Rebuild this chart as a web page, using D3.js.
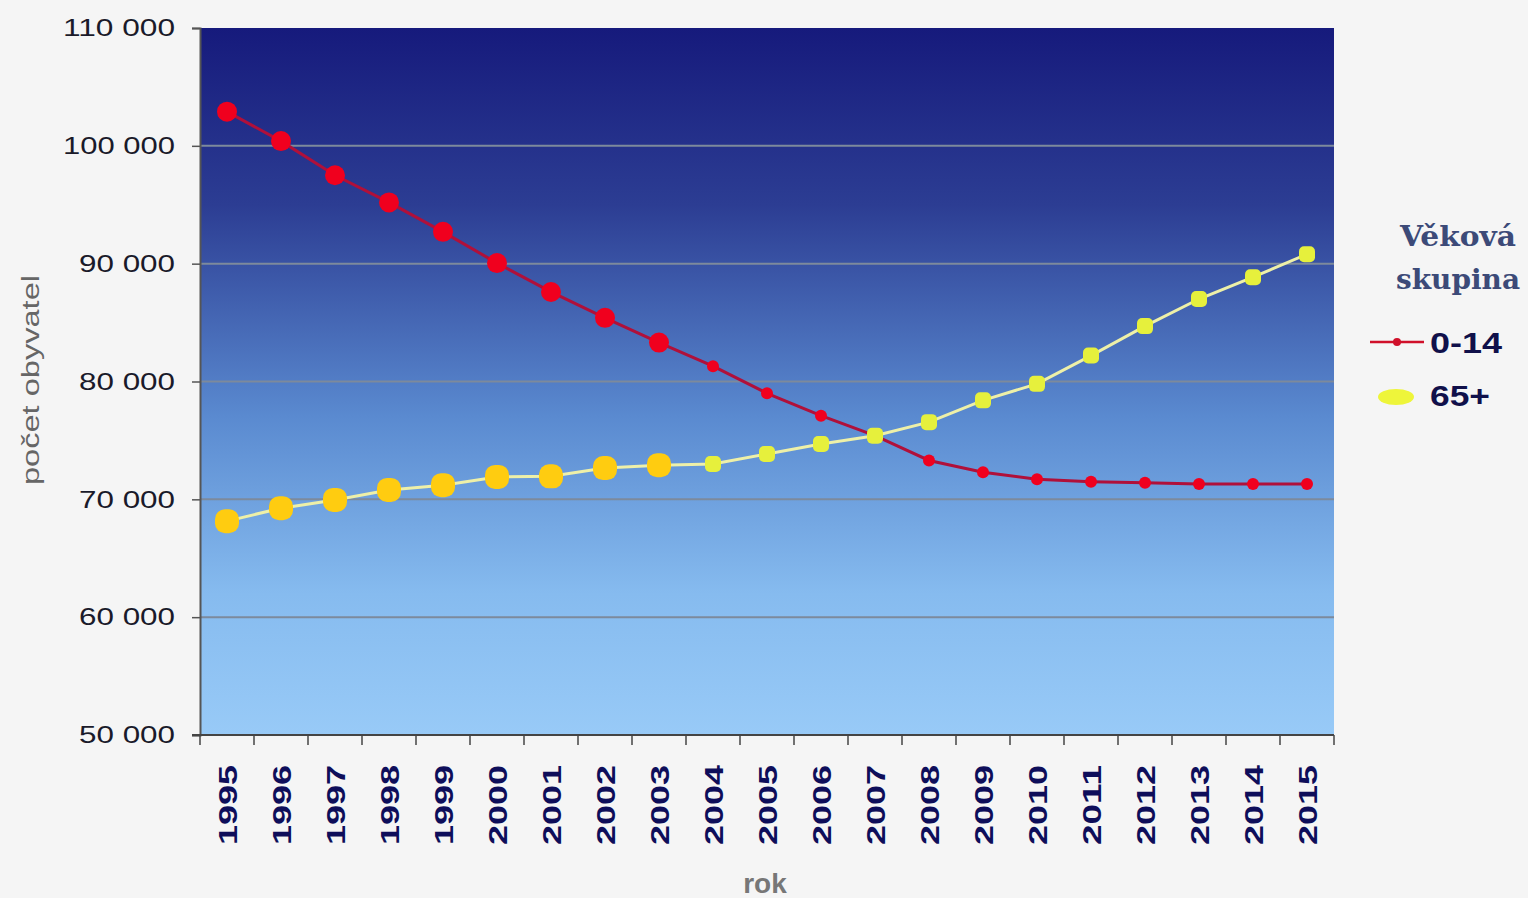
<!DOCTYPE html>
<html>
<head>
<meta charset="utf-8">
<script src="https://cdn.jsdelivr.net/npm/d3@7"></script>
<style>
  body { margin: 0; background: #f5f5f5; }
  svg { display: block; }
</style>
</head>
<body>
<div id="container"></div>
<script>
// ******* Data *******
var years = ["1995","1996","1997","1998","1999","2000","2001","2002","2003","2004","2005",
             "2006","2007","2008","2009","2010","2011","2012","2013","2014","2015"];
var kids = [102900, 100400, 97500, 95200, 92700, 90050, 87600, 85400, 83300, 81300, 79000,
            77100, 75400, 73300, 72300, 71700, 71500, 71400, 71300, 71300, 71300];   // 0-14
var seniors = [68150, 69250, 69950, 70800, 71200, 71900, 71950, 72650, 72900, 73000, 73850,
               74700, 75400, 76550, 78400, 79800, 82200, 84700, 87000, 88850, 90800]; // 65+
var yTicks = [50000, 60000, 70000, 80000, 90000, 100000, 110000];
var seriesNames = ["0-14", "65+"];

var width = 1528, height = 898;
var m = {left: 200, top: 28, right: 1334, bottom: 735};

var svg = d3.select("#container").append("svg")
  .attr("width", width)
  .attr("height", height);

var x = d3.scaleBand().domain(years).range([m.left, m.right]);
var y = d3.scaleLinear().domain([50000, 110000]).range([m.bottom, m.top]);

// background gradient of the plot area
var defs = svg.append("defs");
var grad = defs.append("linearGradient")
  .attr("id", "bg").attr("x1", 0).attr("y1", 0).attr("x2", 0).attr("y2", 1);
grad.append("stop").attr("offset", "0%").attr("stop-color", "#161a7c");
grad.append("stop").attr("offset", "25%").attr("stop-color", "#2c3d93");
grad.append("stop").attr("offset", "55%").attr("stop-color", "#5a8ad0");
grad.append("stop").attr("offset", "80%").attr("stop-color", "#86bbef");
grad.append("stop").attr("offset", "100%").attr("stop-color", "#98caf7");

svg.append("rect")
  .attr("x", m.left).attr("y", m.top)
  .attr("width", m.right - m.left).attr("height", m.bottom - m.top)
  .attr("fill", "url(#bg)");

// grid lines
svg.append("g")
  .selectAll("line")
  .data(yTicks.slice(1, -1))
  .enter().append("line")
  .attr("x1", m.left).attr("x2", m.right)
  .attr("y1", function(d) { return y(d); })
  .attr("y2", function(d) { return y(d); })
  .attr("stroke", "#7d8a9c")
  .attr("stroke-width", 2);

// y axis
var fmt = function(d) { return d3.format(",")(d).replace(/,/g, " "); };
var yAxis = svg.append("g")
  .attr("transform", "translate(" + m.left + ",0)")
  .call(d3.axisLeft(y).tickValues(yTicks).tickFormat(fmt).tickSize(8).tickPadding(17));
yAxis.select(".domain").attr("stroke", "#555").attr("stroke-width", 2);
yAxis.selectAll(".tick line").attr("stroke", "#555").attr("stroke-width", 1.5);
yAxis.selectAll("text")
  .attr("fill", "#1a1a2a")
  .attr("textLength", function(d) { return d >= 100000 ? 112 : 96; })
  .attr("lengthAdjust", "spacingAndGlyphs")
  .style("font-family", "Arial, 'Liberation Sans', sans-serif")
  .style("font-size", "24px");

// x axis: ticks on band edges
var xg = svg.append("g").attr("transform", "translate(0," + m.bottom + ")");
xg.append("line")
  .attr("x1", m.left - 8).attr("x2", m.right)
  .attr("stroke", "#444").attr("stroke-width", 2);
xg.selectAll(".xtick")
  .data(years.concat(["end"]))
  .enter().append("line")
  .attr("class", "xtick")
  .attr("x1", function(d, i) { return m.left + i * x.bandwidth(); })
  .attr("x2", function(d, i) { return m.left + i * x.bandwidth(); })
  .attr("y1", 0).attr("y2", 10)
  .attr("stroke", "#444").attr("stroke-width", 1.5);
xg.selectAll(".xlab")
  .data(years)
  .enter().append("text")
  .attr("class", "xlab")
  .attr("transform", function(d) {
    return "translate(" + (x(d) + x.bandwidth() / 2 + 10) + ",30) rotate(-90)";
  })
  .attr("text-anchor", "end")
  .attr("textLength", 80)
  .attr("lengthAdjust", "spacingAndGlyphs")
  .attr("fill", "#0e0e5a")
  .style("font-family", "Arial, 'Liberation Sans', sans-serif")
  .style("font-weight", "bold")
  .style("font-size", "26px")
  .text(function(d) { return d; });

// axis titles
svg.append("text")
  .attr("x", 765).attr("y", 893)
  .attr("text-anchor", "middle")
  .attr("fill", "#777")
  .style("font-family", "Arial, 'Liberation Sans', sans-serif")
  .style("font-weight", "bold")
  .style("font-size", "28px")
  .text("rok");

svg.append("text")
  .attr("transform", "translate(39,380) rotate(-90)")
  .attr("text-anchor", "middle")
  .attr("textLength", 210)
  .attr("lengthAdjust", "spacingAndGlyphs")
  .attr("fill", "#666")
  .style("font-family", "Arial, 'Liberation Sans', sans-serif")
  .style("font-size", "23px")
  .text("počet obyvatel");

// lines
var line = function(vals) {
  return d3.line()
    .x(function(d, i) { return x(years[i]) + x.bandwidth() / 2; })
    .y(function(d) { return y(d); })(vals);
};

svg.append("path")
  .attr("d", line(kids))
  .attr("fill", "none")
  .attr("stroke", "#b0103a")
  .attr("stroke-width", 3);

svg.append("path")
  .attr("d", line(seniors))
  .attr("fill", "none")
  .attr("stroke", "#eef0a8")
  .attr("stroke-width", 3);

// markers: big ones for the first nine years, small afterwards
svg.append("g")
  .selectAll("circle")
  .data(kids)
  .enter().append("circle")
  .attr("cx", function(d, i) { return x(years[i]) + x.bandwidth() / 2; })
  .attr("cy", function(d) { return y(d); })
  .attr("r", function(d, i) { return i < 9 ? 10 : 6; })
  .attr("fill", "#f0001e");

svg.append("g")
  .selectAll("rect")
  .data(seniors)
  .enter().append("rect")
  .attr("x", function(d, i) { return x(years[i]) + x.bandwidth() / 2 - (i < 9 ? 12 : 8); })
  .attr("y", function(d, i) { return y(d) - (i < 9 ? 12 : 8); })
  .attr("width", function(d, i) { return i < 9 ? 24 : 16; })
  .attr("height", function(d, i) { return i < 9 ? 24 : 16; })
  .attr("rx", function(d, i) { return i < 9 ? 10 : 5; })
  .attr("fill", function(d, i) { return i < 9 ? "#ffcc10" : "#e6f03c"; });

// legend
var lg = svg.append("g");
lg.selectAll(".ltitle")
  .data(["Věková", "skupina"])
  .enter().append("text")
  .attr("x", 1458)
  .attr("y", function(d, i) { return 246 + i * 43; })
  .attr("text-anchor", "middle")
  .attr("textLength", function(d, i) { return i == 0 ? 116 : 124; })
  .attr("lengthAdjust", "spacingAndGlyphs")
  .attr("fill", "#3c4a78")
  .style("font-family", "'DejaVu Serif', 'Liberation Serif', serif")
  .style("font-weight", "bold")
  .style("font-size", "27px")
  .text(function(d) { return d; });

lg.append("line")
  .attr("x1", 1370).attr("x2", 1424).attr("y1", 342).attr("y2", 342)
  .attr("stroke", "#d0102a").attr("stroke-width", 2.5);
lg.append("circle")
  .attr("cx", 1397).attr("cy", 342).attr("r", 4).attr("fill", "#d0102a");
lg.append("ellipse")
  .attr("cx", 1396).attr("cy", 397).attr("rx", 18).attr("ry", 8).attr("fill", "#eef53a");

lg.selectAll(".lname")
  .data(seriesNames)
  .enter().append("text")
  .attr("x", 1430)
  .attr("y", function(d, i) { return 353 + i * 53; })
  .attr("textLength", function(d, i) { return i == 0 ? 72 : 60; })
  .attr("lengthAdjust", "spacingAndGlyphs")
  .attr("fill", "#10104a")
  .style("font-family", "Arial, 'Liberation Sans', sans-serif")
  .style("font-weight", "bold")
  .style("font-size", "30px")
  .text(function(d) { return d; });
</script>
</body>
</html>
